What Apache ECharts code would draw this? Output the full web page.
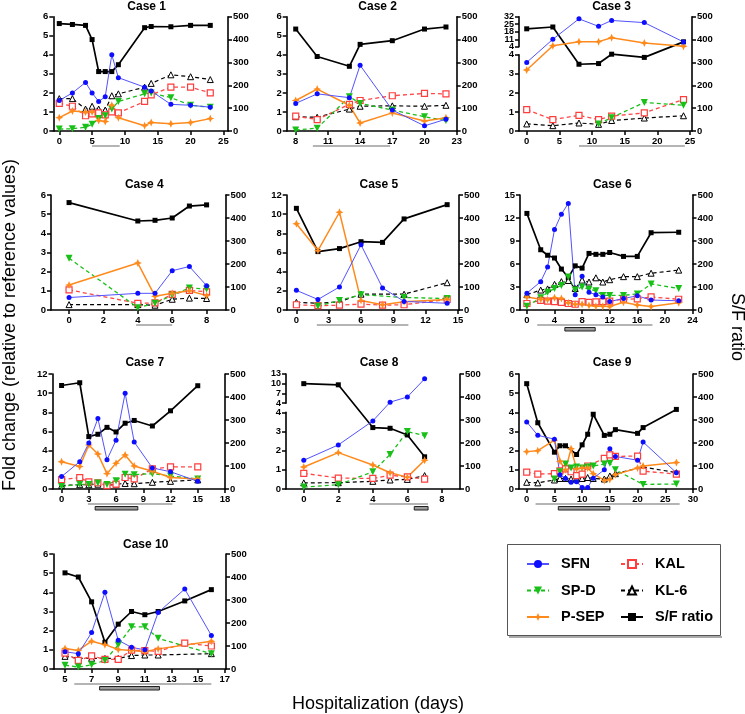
<!DOCTYPE html>
<html>
<head>
<meta charset="utf-8">
<title>Biomarkers and S/F ratio during hospitalization</title>
<script src="https://cdn.jsdelivr.net/npm/echarts@6/dist/echarts.min.js"></script>
<style>
  html, body { margin: 0; padding: 0; background: #fff; }
  #chart { width: 745px; height: 714px; }
</style>
</head>
<body>
<div id="chart"></div>
<script>
// ---- data: days of hospitalization and fold change / S/F values per case ----
const case1Days = [0, 2, 4, 5, 6, 7, 8, 9, 13, 14, 17, 20, 23];
const case1SFN  = [1.6, 2.0, 2.55, 2.0, 1.55, 1.8, 4.0, 2.8, 2.3, 2.1, 1.4, 1.35, 1.25];
const case1KAL  = [1.45, 1.3, 0.8, 0.9, 0.95, 0.85, 1.0, 0.95, 1.55, 1.9, 2.3, 2.3, 2.0];
const case1SPD  = [0.1, 0.12, 0.2, 0.35, 0.65, 0.8, 1.15, 1.55, 1.95, 2.0, 1.75, 1.35, 1.25];
const case1KL6  = [1.7, 1.7, 1.15, 1.3, 1.15, 1.1, 1.85, 1.95, 2.3, 2.5, 2.95, 2.85, 2.7];
const case1PSEP = [0.7, 1.05, 1.0, 1.0, 0.55, 0.5, 1.35, 0.7, 0.28, 0.45, 0.38, 0.45, 0.65];
const case1SF   = [470, 466, 462, 400, 260, 260, 260, 290, 452, 457, 456, 462, 462];

const case2Days = [8, 10, 13, 14, 17, 20, 22];
const case2SFN  = [1.45, 1.95, 1.75, 3.45, 1.1, 0.27, 0.62];
const case2KAL  = [0.78, 0.6, 1.4, 1.6, 1.85, 1.97, 1.95];
const case2SPD  = [0.05, 0.15, 1.8, 1.45, 1.1, 0.75, 0.55];
const case2KL6  = [0.75, 0.72, 1.15, 1.3, 1.32, 1.3, 1.35];
const case2PSEP = [1.6, 2.2, 1.35, 0.42, 0.95, 0.52, 0.7];
const case2SF   = [446, 326, 283, 379, 395, 446, 455];

const case3Days = [0, 4, 8, 11, 13, 18, 24];
const case3SFN  = [3.6, 11, 30, 23, 28.5, 26.5, 8.5];
const case3KAL  = [1.12, 0.6, 0.82, 0.6, 0.78, 0.95, 1.65];
const case3SPD  = [null, null, null, 0.37, 0.7, 1.5, 1.35];
const case3KL6  = [0.37, 0.28, 0.42, 0.35, 0.55, 0.68, 0.8];
const case3PSEP = [3.2, 5, 8.7, 8.8, 12.5, 7.5, 4.5];
const case3SF   = [447, 455, 292, 295, 336, 322, 390];

const case4Days = [0, 4, 5, 6, 7, 8];
const case4SFN  = [0.65, 0.87, 0.87, 2.05, 2.27, 1.27];
const case4KAL  = [1.05, 0.35, 0.37, 0.82, 1.02, 0.95];
const case4SPD  = [2.7, 0.12, 0.35, 0.77, 1.15, 1.1];
const case4KL6  = [0.28, 0.28, 0.25, 0.56, 0.62, 0.6];
const case4PSEP = [1.3, 2.45, 0.72, 0.87, 1.0, 0.75];
const case4SF   = [467, 387, 390, 400, 452, 457];

const case5Days = [0, 2, 4, 6, 8, 10, 14];
const case5SFN  = [2.05, 1.1, 2.4, 6.8, 2.3, 0.9, 0.7];
const case5KAL  = [0.55, 0.45, 0.5, 0.62, 0.5, 0.55, 1.1];
const case5SPD  = [null, 0.4, 1.0, 1.6, null, 1.3, 1.2];
const case5KL6  = [0.8, 0.7, 0.85, 1.65, null, 1.65, 2.85];
const case5PSEP = [9.0, 6.2, 10.2, 1.0, 0.55, 0.85, 1.1];
const case5SF   = [442, 254, 267, 297, 294, 396, 458];

const case6Days = [0, 2, 3, 4, 5, 6, 7, 8, 9, 10, 11, 12, 14, 16, 18, 22];
const case6SFN  = [2.2, 3.7, 5.6, 10.5, 12.5, 13.9, 2.0, 4.4, 2.3, 2.0, 1.7, 1.1, 1.5, 1.85, 1.3, 1.2];
const case6KAL  = [0.85, 1.25, 1.15, 1.1, 1.0, 0.85, 0.75, 1.1, 1.0, 1.05, 1.1, 1.15, 1.4, 1.45, 1.7, 1.4];
const case6SPD  = [0.5, 1.6, 2.3, 2.8, 3.2, 4.3, 2.6, 3.0, 2.7, 2.5, 1.9, 1.9, 1.9, 2.1, 3.4, 2.8];
const case6KL6  = [2.0, 2.6, 2.75, 3.35, 3.7, 3.85, 2.8, 3.9, 3.65, 4.2, 3.65, 3.95, 4.35, 4.35, 4.8, 5.2];
const case6PSEP = [1.7, 1.4, 1.35, 1.6, 1.5, 0.95, 0.75, 0.75, 0.6, 0.5, 0.5, 0.45, 1.0, 0.65, 0.45, 0.95];
const case6SF   = [420, 262, 238, 226, 178, 141, 192, 182, 246, 242, 242, 250, 233, 233, 336, 338];

const case7Days = [0, 2, 3, 4, 5, 6, 7, 8, 10, 12, 15];
const case7SFN  = [1.3, 2.85, 4.8, 7.35, 3.05, 5.1, 10.0, 4.9, 2.2, 1.8, 0.8];
const case7KAL  = [0.98, 1.18, 0.75, 0.65, 0.35, 0.5, 1.2, 1.05, 2.1, 2.3, 2.3];
const case7SPD  = [0.25, 0.5, 0.47, 0.62, 0.47, 0.85, 1.55, 1.5, 1.6, 1.35, 1.05];
const case7KL6  = [0.37, 0.45, 0.45, 0.5, 0.4, 0.5, 0.58, 0.55, 0.7, 0.8, 0.95];
const case7PSEP = [2.85, 2.35, 4.6, 3.65, 1.6, 2.7, 3.55, 2.4, 1.85, 1.2, 1.05];
const case7SF   = [450, 462, 228, 238, 268, 248, 286, 298, 274, 340, 449];

const case8Days = [0, 2, 4, 5, 6, 7];
const case8SFN  = [1.5, 2.3, 3.55, 4.3, 5.9, 11.5];
const case8KAL  = [0.82, 0.57, 0.55, 0.72, 0.63, 0.52];
const case8SPD  = [0.1, 0.22, 0.9, 1.8, 3.0, 2.78];
const case8KL6  = [0.32, 0.33, 0.4, 0.47, 0.5, 0.7];
const case8PSEP = [1.15, 1.9, 1.25, 0.85, 0.62, 1.5];
const case8SF   = [458, 453, 267, 264, 235, 140];

const case9Days = [0, 2, 5, 6, 7, 8, 9, 10, 11, 12, 14, 15, 16, 20, 21, 27];
const case9SFN  = [3.5, 2.8, 2.6, 0.75, 0.55, 0.35, 0.38, 0.08, 0.08, 0.56, 1.0, 2.1, 1.7, 1.5, 2.45, 0.85];
const case9KAL  = [0.88, 0.78, 0.8, 0.95, 1.05, 0.9, 0.7, 0.78, 1.2, null, 1.6, 1.78, 1.7, 1.72, 0.93, 0.78];
const case9SPD  = [null, null, 0.52, 0.9, 1.3, 1.1, 1.15, 1.1, 1.15, 1.2, 1.3, 1.35, 1.0, null, 0.24, 0.26];
const case9KL6  = [0.35, 0.32, 0.47, 0.55, 0.55, 0.52, 0.52, 0.55, 0.6, 0.55, 0.52, 0.68, 0.8, null, 1.15, 0.85];
const case9PSEP = [1.95, 2.0, 2.55, 1.45, 1.0, 2.1, 1.05, 1.1, 1.1, 0.8, 0.45, 0.5, 0.75, 1.1, 1.2, 1.38];
const case9SF   = [458, 288, 160, 188, 188, null, 150, 192, 238, 325, 233, 238, 258, 242, 267, 346];

const case10Days = [5, 6, 7, 8, 9, 10, 11, 12, 14, 16];
const case10SFN  = [0.9, 0.8, 1.9, 4.0, 1.5, 1.13, 1.0, 2.95, 4.17, 1.75];
const case10KAL  = [0.83, 0.45, 0.68, 0.5, 0.5, 0.98, 0.96, 0.92, 1.35, 1.2];
const case10SPD  = [0.2, 0.1, 0.22, 0.45, 1.25, 2.2, 2.2, 1.6, null, 0.8];
const case10KL6  = [0.66, 0.56, 0.56, 0.55, 0.55, 0.7, 0.73, 0.73, null, 0.8];
const case10PSEP = [1.07, 0.97, 1.45, 1.27, 1.02, 0.97, 0.9, 1.05, null, 1.45];
const case10SF   = [418, 400, 292, 116, 195, 250, 236, 250, 296, 345];

// tick labels
const ticksDay25 = [0, 5, 10, 15, 20, 25];
const ticksCase2X = [8, 11, 14, 17, 20, 23];
const ticksDay8 = [0, 2, 4, 6, 8];
const ticksDay15 = [0, 3, 6, 9, 12, 15];
const ticksDay24 = [0, 4, 8, 12, 16, 20, 24];
const ticksDay18 = [0, 3, 6, 9, 12, 15, 18];
const ticksDay30 = [0, 5, 10, 15, 20, 25, 30];
const ticksCase10X = [5, 7, 9, 11, 13, 15, 17];
const ticksFold6 = [0, 1, 2, 3, 4, 5, 6];
const ticksFold12 = [0, 2, 4, 6, 8, 10, 12];
const ticksFold15 = [0, 3, 6, 9, 12, 15];
const ticksFoldLow = [0, 1, 2, 3, 4];
const ticksCase3High = [4, 11, 18, 25, 32];
const ticksCase8High = [4, 7, 10, 13];
const ticksSF = [0, 100, 200, 300, 400, 500];

// treatment periods drawn under the day axis
const case1Span = [5, 9.2];
const case2Span = [9.6, 16.8];
const case3Span = [8, 24.2];
const case4Span = [3.9, 6];
const case5Span = [1.9, 10.4];
const case6Span = [1.5, 18.2], case6Band = [5.5, 9.9];
const case7Span = [2.9, 12.2], case7Band = [3.7, 8.4];
const case8Span = [3.8, 7.2], case8Band = [6.4, 7.2];
const case9Span = [1.6, 27.6], case9Band = [5.7, 15];
const case10Span = [5.7, 16], case10Band = [7.6, 12.1];

const cases = [
  { title: 'Case 1', days: case1Days, SFN: case1SFN, KAL: case1KAL, SPD: case1SPD, KL6: case1KL6, PSEP: case1PSEP, SF: case1SF, xTicks: ticksDay25, yTicks: ticksFold6, span: case1Span },
  { title: 'Case 2', days: case2Days, SFN: case2SFN, KAL: case2KAL, SPD: case2SPD, KL6: case2KL6, PSEP: case2PSEP, SF: case2SF, xTicks: ticksCase2X, yTicks: ticksFold6, span: case2Span },
  { title: 'Case 3', days: case3Days, SFN: case3SFN, KAL: case3KAL, SPD: case3SPD, KL6: case3KL6, PSEP: case3PSEP, SF: case3SF, xTicks: ticksDay25, yTicks: ticksFoldLow, yHigh: ticksCase3High, span: case3Span },
  { title: 'Case 4', days: case4Days, SFN: case4SFN, KAL: case4KAL, SPD: case4SPD, KL6: case4KL6, PSEP: case4PSEP, SF: case4SF, xTicks: ticksDay8, yTicks: ticksFold6, span: case4Span },
  { title: 'Case 5', days: case5Days, SFN: case5SFN, KAL: case5KAL, SPD: case5SPD, KL6: case5KL6, PSEP: case5PSEP, SF: case5SF, xTicks: ticksDay15, yTicks: ticksFold12, span: case5Span },
  { title: 'Case 6', days: case6Days, SFN: case6SFN, KAL: case6KAL, SPD: case6SPD, KL6: case6KL6, PSEP: case6PSEP, SF: case6SF, xTicks: ticksDay24, yTicks: ticksFold15, span: case6Span, band: case6Band },
  { title: 'Case 7', days: case7Days, SFN: case7SFN, KAL: case7KAL, SPD: case7SPD, KL6: case7KL6, PSEP: case7PSEP, SF: case7SF, xTicks: ticksDay18, yTicks: ticksFold12, span: case7Span, band: case7Band },
  { title: 'Case 8', days: case8Days, SFN: case8SFN, KAL: case8KAL, SPD: case8SPD, KL6: case8KL6, PSEP: case8PSEP, SF: case8SF, xTicks: ticksDay8, yTicks: ticksFoldLow, yHigh: ticksCase8High, span: case8Span, band: case8Band },
  { title: 'Case 9', days: case9Days, SFN: case9SFN, KAL: case9KAL, SPD: case9SPD, KL6: case9KL6, PSEP: case9PSEP, SF: case9SF, xTicks: ticksDay30, yTicks: ticksFold6, span: case9Span, band: case9Band },
  { title: 'Case 10', days: case10Days, SFN: case10SFN, KAL: case10KAL, SPD: case10SPD, KL6: case10KL6, PSEP: case10PSEP, SF: case10SF, xTicks: ticksCase10X, yTicks: ticksFold6, span: case10Span, band: case10Band }
];

// ---- layout (pixels) ----
const panels = [
  { l: 53.3, r: 228, top: 16.7, bottom: 131, xMin: -0.91, xMax: 25.7, titleY: 7 },
  { l: 286.7, r: 456.7, top: 16.7, bottom: 131, xMin: 7.16, xMax: 23, titleY: 7 },
  { l: 519, r: 692, top: 16.7, bottom: 131, xMin: -1.18, xMax: 25.3, titleY: 7, upStart: 4.42 },
  { l: 51, r: 225.5, top: 195, bottom: 310, xMin: -1.05, xMax: 9.1, titleY: 185 },
  { l: 286.7, r: 459, top: 195, bottom: 310, xMin: -0.9, xMax: 15.1, titleY: 185 },
  { l: 520, r: 692.5, top: 195, bottom: 310, xMin: -1.0, xMax: 24, titleY: 185 },
  { l: 52.5, r: 225, top: 374, bottom: 489, xMin: -1.0, xMax: 18, titleY: 363 },
  { l: 286, r: 460, top: 374, bottom: 489, xMin: -1.03, xMax: 9.05, titleY: 363, upStart: 4.48 },
  { l: 519, r: 693, top: 374, bottom: 489, xMin: -1.39, xMax: 30, titleY: 363 },
  { l: 53.3, r: 226, top: 554, bottom: 669, xMin: 4.12, xMax: 17.1, titleY: 545 }
];

const FONT = '"Liberation Sans", Arial, Helvetica, sans-serif';
const STAR = 'path://M0,-10L3,-3L10,0L3,3L0,10L-3,3L-10,0L-3,-3Z';

const seriesStyles = [
  { key: 'SF', name: 'S/F ratio', right: true, symbol: 'rect', symbolSize: 5,
    itemStyle: { color: '#000' }, lineStyle: { color: '#000', width: 1.7 } },
  { key: 'KL6', name: 'KL-6', symbol: 'triangle', symbolSize: 6,
    itemStyle: { color: '#fff', borderColor: '#000', borderWidth: 1 }, lineStyle: { color: '#000', width: 1.2, type: [4, 3] } },
  { key: 'KAL', name: 'KAL', symbol: 'rect', symbolSize: 6,
    itemStyle: { color: '#fff', borderColor: '#ff3d3d', borderWidth: 1.2 }, lineStyle: { color: '#ff4747', width: 1.3, type: [4, 3] } },
  { key: 'SPD', name: 'SP-D', symbol: 'triangle', symbolRotate: 180, symbolSize: 7,
    itemStyle: { color: '#18c018' }, lineStyle: { color: '#18c018', width: 1.3, type: [4, 3] } },
  { key: 'PSEP', name: 'P-SEP', symbol: STAR, symbolSize: 8,
    itemStyle: { color: '#ff8a1c' }, lineStyle: { color: '#ff8a1c', width: 1.5 } },
  { key: 'SFN', name: 'SFN', symbol: 'circle', symbolSize: 5,
    itemStyle: { color: '#0d0dff' }, lineStyle: { color: '#5252ff', width: 1 } }
];

// broken axis: values above the lower segment are squeezed into [upStart, 6]
function scaleFor(c, p) {
  if (!c.yHigh) return v => v;
  const lowTop = c.yTicks[c.yTicks.length - 1];
  const hiMax = c.yHigh[c.yHigh.length - 1];
  return v => v <= lowTop ? v : p.upStart + (v - lowTop) * (6 - p.upStart) / (hiMax - lowTop);
}

const axisLine = { show: true, onZero: false, lineStyle: { color: '#000', width: 1.6 } };
const tickStyle = { show: true, length: 4, lineStyle: { color: '#000', width: 1.5 } };
const labelFont = { color: '#000', fontFamily: FONT, fontSize: 9.5, fontWeight: 'bold', hideOverlap: false, showMinLabel: true, showMaxLabel: true };

function valueAxis(extra, ticks, labelExtra, labelTicks) {
  const tick = Object.assign({}, tickStyle);
  const label = Object.assign({}, labelFont, { margin: 5 }, labelExtra || {});
  if (ticks) { tick.customValues = ticks; label.customValues = labelTicks || ticks; }
  return Object.assign({
    type: 'value', axisLine: axisLine, splitLine: { show: false },
    axisTick: tick, axisLabel: label
  }, extra);
}

const grid = [], xAxis = [], yAxis = [], series = [];
const mainX = [];

function overlayGrid(p, top, height) {
  const g = grid.length;
  grid.push({ left: p.l, top: top, width: p.r - p.l, height: height });
  xAxis.push({ type: 'value', gridIndex: g, show: false });
  return g;
}

cases.forEach((c, k) => {
  const p = panels[k];
  const sc = scaleFor(c, p);
  const H = p.bottom - p.top;
  const gi = grid.length;
  grid.push({ left: p.l, top: p.top, width: p.r - p.l, height: H });

  const xi = xAxis.length;
  mainX.push(xi);
  xAxis.push(valueAxis({ gridIndex: gi, min: p.xMin, max: p.xMax }, c.xTicks));

  // left fold-change axis
  const li = yAxis.length;
  if (c.yHigh) {
    yAxis.push({ type: 'value', gridIndex: gi, position: 'left', min: 0, max: 6, show: false });
  } else {
    yAxis.push(valueAxis({ gridIndex: gi, position: 'left', min: 0, max: c.yTicks[c.yTicks.length - 1] }, c.yTicks));
  }
  // right S/F axis
  const ri = yAxis.length;
  yAxis.push(valueAxis({ gridIndex: gi, position: 'right', min: 0, max: 500 }, ticksSF));

  // broken axis: display-only segments stacked over the main grid
  if (c.yHigh) {
    const lowTop = c.yTicks[c.yTicks.length - 1];
    const hiMax = c.yHigh[c.yHigh.length - 1];
    const lowH = H * lowTop / 6;
    const upH = H * (6 - p.upStart) / 6;
    const gLow = overlayGrid(p, p.bottom - lowH, lowH);
    yAxis.push(valueAxis({ gridIndex: gLow, position: 'left', min: 0, max: lowTop, interval: 1 }, null));
    // upper labels are split over two axes so none of them gets thinned out
    const evenTicks = c.yHigh.filter((v, i) => i % 2 === 0);
    const oddTicks = c.yHigh.filter((v, i) => i % 2 === 1);
    const gUp = overlayGrid(p, p.top, upH);
    yAxis.push(valueAxis({ gridIndex: gUp, position: 'left', min: lowTop, max: hiMax }, c.yHigh,
      { fontSize: 9 }, evenTicks));
    const gUp2 = overlayGrid(p, p.top, upH);
    yAxis.push(valueAxis({ gridIndex: gUp2, position: 'left', min: lowTop, max: hiMax,
      axisLine: { show: false } }, oddTicks, { fontSize: 9 }));
    yAxis[yAxis.length - 1].axisTick.show = false;
  }

  seriesStyles.forEach(s => {
    const vals = c[s.key];
    const data = [];
    c.days.forEach((d, i) => {
      if (vals[i] == null) return;
      data.push([d, s.right ? vals[i] : sc(vals[i])]);
    });
    series.push({
      name: s.name, type: 'line', xAxisIndex: xi, yAxisIndex: s.right ? ri : li,
      data: data, symbol: s.symbol, symbolSize: s.symbolSize, symbolRotate: s.symbolRotate || 0,
      showSymbol: true, itemStyle: s.itemStyle, lineStyle: s.lineStyle,
      emphasis: { disabled: true }, animation: false
    });
  });
});

const legendCommon = {
  orient: 'vertical', itemWidth: 22, itemHeight: 10, itemGap: 10.5,
  selectedMode: false,
  textStyle: { color: '#000', fontFamily: FONT, fontSize: 14.5, fontWeight: 'bold', lineHeight: 16, padding: [0, 0, 0, 7] }
};

const option = {
  animation: false,
  backgroundColor: '#fff',
  textStyle: { fontFamily: FONT },
  grid: grid,
  xAxis: xAxis,
  yAxis: yAxis,
  series: series,
  legend: [
    Object.assign({}, legendCommon, { data: ['SFN', 'SP-D', 'P-SEP'], left: 521, top: 551 }),
    Object.assign({}, legendCommon, { data: ['KAL', 'KL-6', 'S/F ratio'], left: 615, top: 551 })
  ]
};

const chart = echarts.init(document.getElementById('chart'));
chart.setOption(option);

// ---- text and decorations ----
const graphics = [];
cases.forEach((c, k) => {
  const p = panels[k];
  graphics.push({
    type: 'text', x: (p.l + p.r) / 2 + 6, y: p.titleY,
    style: { text: c.title, fill: '#000', font: 'bold 12px ' + FONT, textAlign: 'center', textVerticalAlign: 'middle' }
  });
  const px = v => chart.convertToPixel({ xAxisIndex: mainX[k] }, v);
  if (c.span) {
    graphics.push({
      type: 'line', shape: { x1: px(c.span[0]), y1: p.bottom + 15, x2: px(c.span[1]), y2: p.bottom + 15 },
      style: { stroke: '#6b6b6b', lineWidth: 1 }
    });
  }
  if (c.band) {
    const x0 = px(c.band[0]), x1 = px(c.band[1]);
    graphics.push({
      type: 'rect', shape: { x: x0, y: p.bottom + 17.5, width: x1 - x0, height: 3.5 },
      style: { fill: '#9a9a9a', stroke: '#222', lineWidth: 1 }
    });
  }
});

graphics.push({
  type: 'text', x: 10, y: 325, rotation: Math.PI / 2,
  style: { text: 'Fold change (relative to reference values)', fill: '#000', font: '18px ' + FONT, textAlign: 'center', textVerticalAlign: 'middle' }
});
graphics.push({
  type: 'text', x: 737, y: 327, rotation: -Math.PI / 2,
  style: { text: 'S/F ratio', fill: '#000', font: '18px ' + FONT, textAlign: 'center', textVerticalAlign: 'middle' }
});
graphics.push({
  type: 'text', x: 378, y: 704,
  style: { text: 'Hospitalization (days)', fill: '#000', font: '18px ' + FONT, textAlign: 'center', textVerticalAlign: 'middle' }
});
// legend frame
graphics.push({
  type: 'rect', z: -1, shape: { x: 507.5, y: 544.5, width: 213, height: 91 },
  style: { fill: '#fff', stroke: '#555', lineWidth: 1 }
});
graphics.push({
  type: 'line', shape: { x1: 509, y1: 637, x2: 722, y2: 637 },
  style: { stroke: '#aaa', lineWidth: 2 }
});

chart.setOption({ graphic: graphics });
</script>
</body>
</html>
